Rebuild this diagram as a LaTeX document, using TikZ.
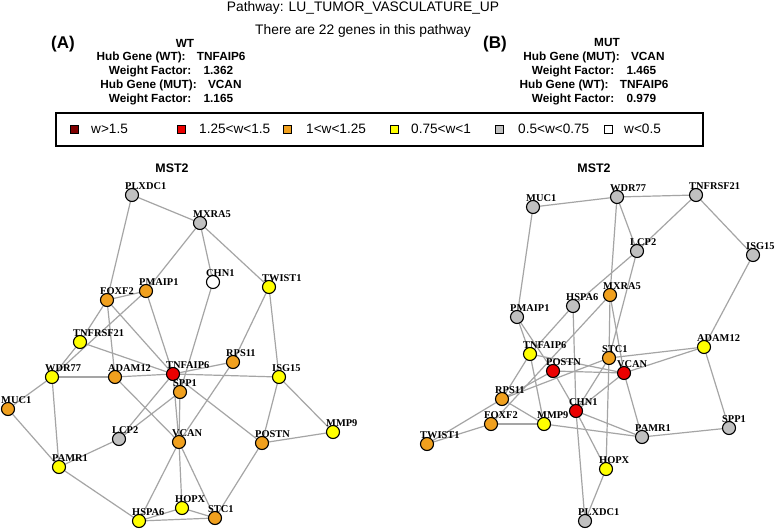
\documentclass[tikz,border=0pt]{standalone}
\usepackage{fontspec}
\setmainfont{Liberation Serif}
\newfontfamily\hsans{Liberation Sans}
\usetikzlibrary{backgrounds}
\definecolor{wdred}{RGB}{128,0,0}
\definecolor{wred}{RGB}{235,0,0}
\definecolor{worange}{RGB}{240,160,30}
\definecolor{wyellow}{RGB}{255,255,0}
\definecolor{wgray}{RGB}{192,192,192}
\definecolor{edgegray}{RGB}{165,165,165}
\tikzset{
  gn/.style={circle,draw=black,line width=1.1pt,minimum size=13pt,inner sep=0pt},
  glab/.style={font=\bfseries\fontsize{10.4}{11}\selectfont,inner sep=0pt,anchor=south west},
  edge/.style={draw=edgegray,line width=1.2pt},
  ttl/.style={font=\hsans\fontsize{13.8}{15}\selectfont,inner sep=0pt},
  hdr/.style={font=\hsans\bfseries\fontsize{11.8}{13}\selectfont,inner sep=0pt},
  panel/.style={font=\hsans\bfseries\fontsize{17}{19}\selectfont,inner sep=0pt},
  lsq/.style={draw=black,line width=0.9pt,minimum size=8pt,inner sep=0pt},
  ltxt/.style={font=\hsans\fontsize{13.6}{15}\selectfont,inner sep=0pt,anchor=west},
  mst/.style={font=\hsans\bfseries\fontsize{12.4}{14}\selectfont,inner sep=0pt}
}
\newcommand{\gnode}[5]{\node[gn,fill=#4] (#1) at (#2,#3) {};
  \node[glab] (#1-l) at ([xshift=-7pt,yshift=5.5pt]#1.center) {#5};}
\begin{document}
\begin{tikzpicture}[x=1pt,y=-1pt]
\useasboundingbox (0,0) rectangle (778,529);
% header
\node[ttl] (title) at (363,8) {Pathway: LU\_TUMOR\_VASCULATURE\_UP};
\node[ttl] (sub) at (363,31) {There are 22 genes in this pathway};
\node[panel] (pA) at (63,44) {(A)};
\node[hdr] (wt) at (185,43) {WT};
\node[hdr] (a1) at (171,57) {Hub Gene (WT):\hspace{8pt} TNFAIP6};
\node[hdr] (a2) at (171,71) {Weight Factor:\hspace{8pt} 1.362};
\node[hdr] (a3) at (171,85) {Hub Gene (MUT):\hspace{8pt} VCAN};
\node[hdr] (a4) at (171,99) {Weight Factor:\hspace{8pt} 1.165};
\node[panel] (pB) at (495,44) {(B)};
\node[hdr] (mut) at (607,43) {MUT};
\node[hdr] (b1) at (594,57) {Hub Gene (MUT):\hspace{8pt} VCAN};
\node[hdr] (b2) at (594,71) {Weight Factor:\hspace{8pt} 1.465};
\node[hdr] (b3) at (594,85) {Hub Gene (WT):\hspace{8pt} TNFAIP6};
\node[hdr] (b4) at (594,99) {Weight Factor:\hspace{8pt} 0.979};
% legend
\node[draw=black,line width=1.1pt,minimum width=647pt,minimum height=33pt,inner sep=0pt] (legend) at (379.5,129.5) {};
\node[lsq,fill=wdred] (k1) at (74,129) {};
\node[ltxt] (t1) at (91,129) {w>1.5};
\node[lsq,fill=wred] (k2) at (181,129) {};
\node[ltxt] (t2) at (199,129) {1.25<w<1.5};
\node[lsq,fill=worange] (k3) at (287,129) {};
\node[ltxt] (t3) at (306,129) {1<w<1.25};
\node[lsq,fill=wyellow] (k4) at (394,129) {};
\node[ltxt] (t4) at (411,129) {0.75<w<1};
\node[lsq,fill=wgray] (k5) at (499,129) {};
\node[ltxt] (t5) at (518,129) {0.5<w<0.75};
\node[lsq,fill=white] (k6) at (608,129) {};
\node[ltxt] (t6) at (624,129) {w<0.5};
\node[mst] (mstA) at (172,168) {MST2};
\node[mst] (mstB) at (594,168) {MST2};
% panel A nodes
\gnode{LPLXDC1}{132}{195}{wgray}{PLXDC1}
\gnode{LMXRA5}{200}{223}{wgray}{MXRA5}
\gnode{LCHN1}{213}{282}{white}{CHN1}
\gnode{LTWIST1}{269}{287}{wyellow}{TWIST1}
\gnode{LPMAIP1}{146}{291}{worange}{PMAIP1}
\gnode{LFOXF2}{107}{300}{worange}{FOXF2}
\gnode{LTNFRSF21}{80}{342}{wyellow}{TNFRSF21}
\gnode{LWDR77}{52}{377}{wyellow}{WDR77}
\gnode{LADAM12}{115}{377}{worange}{ADAM12}
\gnode{LTNFAIP6}{173}{374}{wred}{TNFAIP6}
\gnode{LRPS11}{233}{362}{worange}{RPS11}
\gnode{LISG15}{279}{377}{wyellow}{ISG15}
\gnode{LSPP1}{180}{392}{worange}{SPP1}
\gnode{LMUC1}{8}{409}{worange}{MUC1}
\gnode{LLCP2}{119}{439}{wgray}{LCP2}
\gnode{LVCAN}{179}{442}{worange}{VCAN}
\gnode{LPOSTN}{262}{443}{worange}{POSTN}
\gnode{LMMP9}{333}{432}{wyellow}{MMP9}
\gnode{LPAMR1}{59}{467}{wyellow}{PAMR1}
\gnode{LHOPX}{182}{508}{wyellow}{HOPX}
\gnode{LHSPA6}{139}{521}{wyellow}{HSPA6}
\gnode{LSTC1}{215}{518}{worange}{STC1}
% panel B nodes
\gnode{RMUC1}{533}{207}{wgray}{MUC1}
\gnode{RWDR77}{617}{197}{wgray}{WDR77}
\gnode{RTNFRSF21}{696}{195}{wgray}{TNFRSF21}
\gnode{RLCP2}{637}{251}{wgray}{LCP2}
\gnode{RISG15}{753}{255}{wgray}{ISG15}
\gnode{RMXRA5}{610}{295}{worange}{MXRA5}
\gnode{RHSPA6}{573}{306}{wgray}{HSPA6}
\gnode{RPMAIP1}{517}{317}{wgray}{PMAIP1}
\gnode{RADAM12}{704}{347}{wyellow}{ADAM12}
\gnode{RTNFAIP6}{530}{354}{wyellow}{TNFAIP6}
\gnode{RSTC1}{609}{358}{worange}{STC1}
\gnode{RPOSTN}{553}{371}{wred}{POSTN}
\gnode{RVCAN}{624}{373}{wred}{VCAN}
\gnode{RRPS11}{502}{399}{worange}{RPS11}
\gnode{RCHN1}{576}{411}{wred}{CHN1}
\gnode{RFOXF2}{491}{424}{worange}{FOXF2}
\gnode{RMMP9}{544}{424}{wyellow}{MMP9}
\gnode{RSPP1}{729}{428}{wgray}{SPP1}
\gnode{RPAMR1}{642}{437}{wgray}{PAMR1}
\gnode{RTWIST1}{427}{444}{worange}{TWIST1}
\gnode{RHOPX}{606}{469}{wyellow}{HOPX}
\gnode{RPLXDC1}{585}{521}{wgray}{PLXDC1}
\begin{scope}[on background layer]
\fill[white] (0,0) rectangle (778,529);
\foreach \a/\b in {PLXDC1/MXRA5,PLXDC1/FOXF2,MXRA5/PMAIP1,MXRA5/CHN1,MXRA5/TWIST1,
  CHN1/SPP1,TWIST1/RPS11,TWIST1/ISG15,PMAIP1/FOXF2,PMAIP1/TNFAIP6,PMAIP1/WDR77,
  FOXF2/TNFRSF21,FOXF2/ADAM12,FOXF2/TNFAIP6,TNFRSF21/WDR77,TNFRSF21/TNFAIP6,
  WDR77/ADAM12,WDR77/MUC1,WDR77/PAMR1,MUC1/PAMR1,ADAM12/TNFAIP6,ADAM12/VCAN,
  TNFAIP6/RPS11,TNFAIP6/ISG15,TNFAIP6/LCP2,TNFAIP6/VCAN,TNFAIP6/POSTN,
  SPP1/VCAN,SPP1/LCP2,RPS11/VCAN,ISG15/POSTN,ISG15/MMP9,POSTN/MMP9,POSTN/STC1,
  LCP2/PAMR1,PAMR1/HSPA6,VCAN/HSPA6,VCAN/HOPX,VCAN/STC1,HOPX/HSPA6,HOPX/STC1,HSPA6/STC1}
  \draw[edge] (L\a) -- (L\b);
\foreach \a/\b in {MUC1/WDR77,MUC1/PMAIP1,WDR77/TNFRSF21,WDR77/LCP2,WDR77/MXRA5,
  TNFRSF21/LCP2,TNFRSF21/ISG15,ISG15/ADAM12,LCP2/HSPA6,LCP2/STC1,HSPA6/TNFAIP6,
  HSPA6/CHN1,MXRA5/STC1,MXRA5/VCAN,MXRA5/FOXF2,PMAIP1/TNFAIP6,PMAIP1/POSTN,
  TNFAIP6/VCAN,TNFAIP6/RPS11,TNFAIP6/MMP9,STC1/ADAM12,STC1/RPS11,STC1/CHN1,
  STC1/HOPX,VCAN/POSTN,VCAN/CHN1,VCAN/PAMR1,VCAN/ADAM12,POSTN/CHN1,POSTN/RPS11,
  RPS11/TWIST1,RPS11/MMP9,FOXF2/TWIST1,FOXF2/MMP9,MMP9/PAMR1,CHN1/PAMR1,
  CHN1/HOPX,CHN1/PLXDC1,HOPX/PLXDC1,PAMR1/SPP1,SPP1/ADAM12}
  \draw[edge] (R\a) -- (R\b);
\end{scope}
\end{tikzpicture}
\end{document}
